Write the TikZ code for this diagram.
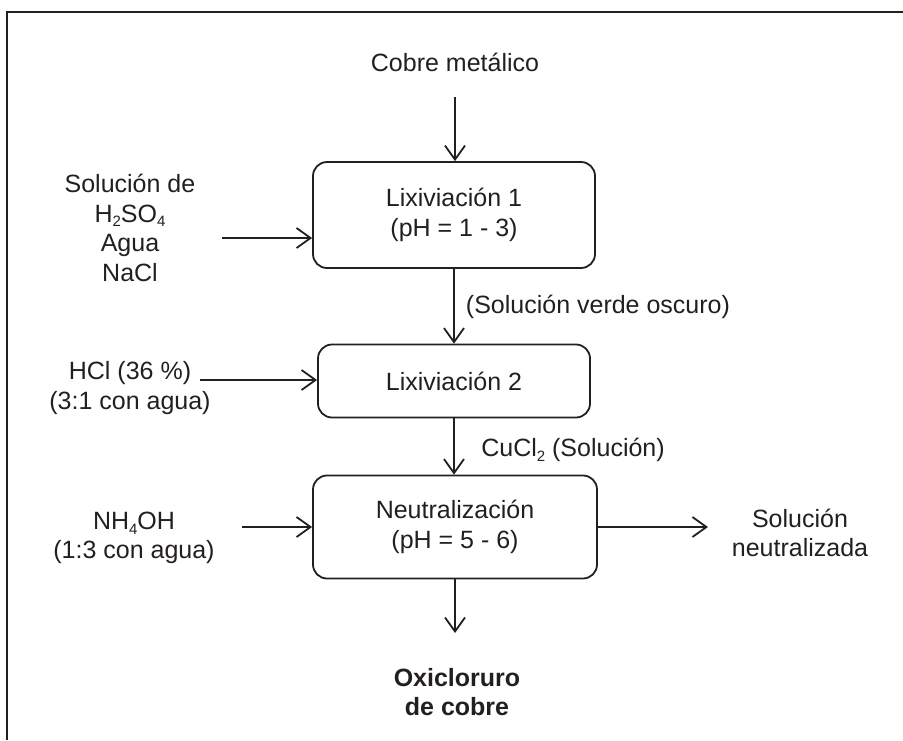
\documentclass[tikz,border=0pt]{standalone}
\usepackage{fontspec}
\setmainfont{Liberation Sans}
\usetikzlibrary{arrows.meta}

\definecolor{tinta}{RGB}{35,31,32}

\tikzset{
  etapa/.style={draw=tinta, line width=1.8pt, rounded corners=14pt, align=center},
  flujo/.style={draw=tinta, line width=1.8pt, -{Straight Barb[length=14pt, width=20pt, line width=1.8pt]}},
  texto/.style={align=center}
}

\newcommand{\sub}[1]{\raisebox{-0.35ex}{\fontsize{15}{15}\selectfont #1}}

\begin{document}
\begin{tikzpicture}[x=1pt, y=-1pt, every node/.style={text=tinta, font=\fontsize{25}{29.5}\selectfont}]
    \useasboundingbox (0,0) rectangle (903,740);
    \draw[tinta, line width=1.8pt] (7,740) -- (7,12) -- (903,12);

    \node[etapa, minimum width=282pt, minimum height=106pt] (lix1) at (454,215) {Lixiviaci\'on 1\\(pH = 1 - 3)};
    \node[etapa, minimum width=272pt, minimum height=73pt] (lix2) at (454,381) {Lixiviaci\'on 2};
    \node[etapa, minimum width=284pt, minimum height=103pt] (neut) at (455,527) {Neutralizaci\'on\\(pH = 5 - 6)};

    \node[texto] (cobre) at (455,62) {Cobre met\'alico};
    \coordinate (c0) at (455,97);
    \draw[flujo] (c0) -- (c0 |- lix1.north);

    \node[texto] (sol) at (130,228) {Soluci\'on de\\H\sub{2}SO\sub{4}\\Agua\\NaCl};
    \coordinate (s0) at (222,238);
    \draw[flujo] (s0) -- (s0 -| lix1.west);

    \draw[flujo] (lix1.south) -- (lix2.north);
    \node[texto] (verde) at (598,307) {(Soluci\'on verde oscuro)};

    \node[texto] (hcl) at (130,388) {HCl (36 \%)\\(3:1 con agua)};
    \coordinate (h0) at (200,380);
    \draw[flujo] (h0) -- (h0 -| lix2.west);

    \draw[flujo] (lix2.south) -- (lix2.south |- neut.north);
    \node[texto] (cucl) at (573,450) {CuCl\sub{2} (Soluci\'on)};

    \node[texto] (nh) at (134,538) {NH\sub{4}OH\\(1:3 con agua)};
    \coordinate (n0) at (242,527);
    \draw[flujo] (n0) -- (n0 -| neut.west);

    \node[texto] (salida) at (800,533) {Soluci\'on\\neutralizada};
    \coordinate (n1) at (708,527);
    \draw[flujo] (n1 -| neut.east) -- (n1);

    \node[texto, font=\fontsize{25}{29.5}\selectfont\bfseries] (oxi) at (457,692) {Oxicloruro\\de cobre};
    \coordinate (o1) at (455,633);
    \draw[flujo] (neut.south) -- (o1);
\end{tikzpicture}
\end{document}
